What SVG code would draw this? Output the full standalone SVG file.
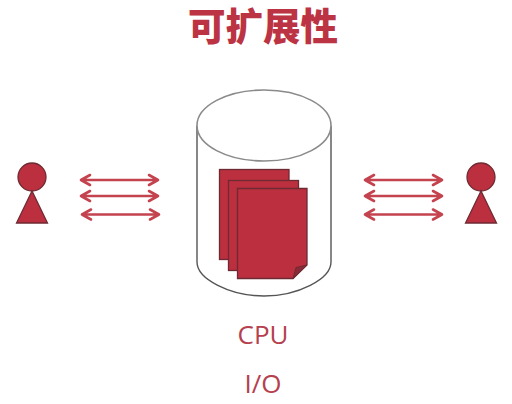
<svg xmlns="http://www.w3.org/2000/svg" width="512" height="404" viewBox="0 0 512 404">
<style>
.fill{fill:#bc2f3e;stroke:#6e2a33;stroke-width:1.3}
.arrow{fill:none;stroke:#c4434f;stroke-width:2.6;stroke-linecap:round;stroke-linejoin:round}
.label{fill:#b5404e;font-family:"Open Sans","Noto Sans",sans-serif;font-size:26px;text-anchor:middle}
.title{fill:#bc3443;font-family:"Noto Sans CJK SC",sans-serif;font-size:37.500px;font-weight:900;text-anchor:middle}
</style>
<defs>
<g id="person"><circle cx="0" cy="0" r="14" class="fill"/><path d="M0 14L-15.500 46H15.500Z" class="fill"/></g>
<g id="biarrow"><path d="M1 0H78M10 -5L1 0L10 5M69 -5L78 0L69 5" class="arrow"/></g>
</defs>
<rect width="512" height="404" fill="#fff"/>
<text class="title" x="263" y="40">可扩展性</text>
<g id="cylinder">
<path d="M197 126V262C197 279 230 296 264 296C298 296 331 279 331 262V126" fill="#fff" stroke="#555" stroke-width="1.4"/>
<ellipse cx="264" cy="125.500" rx="67" ry="35.500" fill="#fff" stroke="#8a8a8a" stroke-width="1.6"/>
</g>
<g id="documents">
<rect x="219.500" y="169.500" width="69.500" height="90" class="fill"/>
<rect x="228.500" y="180.500" width="70" height="90" class="fill"/>
<path d="M237.500 188.500H307V265L293 278.500H237.500Z" class="fill"/>
<path d="M307 265L296 267.500L293 278.500Z" fill="#8a2a36" stroke="#6e2a33"/>
</g>
<g id="person-left"><use href="#person" x="32" y="177"/></g>
<g id="person-right"><use href="#person" x="481" y="177"/></g>
<g id="connectors">
<use href="#biarrow" x="80" y="180"/>
<use href="#biarrow" x="80" y="196"/>
<use href="#biarrow" x="81" y="214.500"/>
<use href="#biarrow" x="364" y="180"/>
<use href="#biarrow" x="364" y="196"/>
<use href="#biarrow" x="364" y="214.500"/>
</g>
<text class="label" x="263" y="343.500">CPU</text>
<text class="label" x="263" y="392.500">I/O</text>
</svg>
